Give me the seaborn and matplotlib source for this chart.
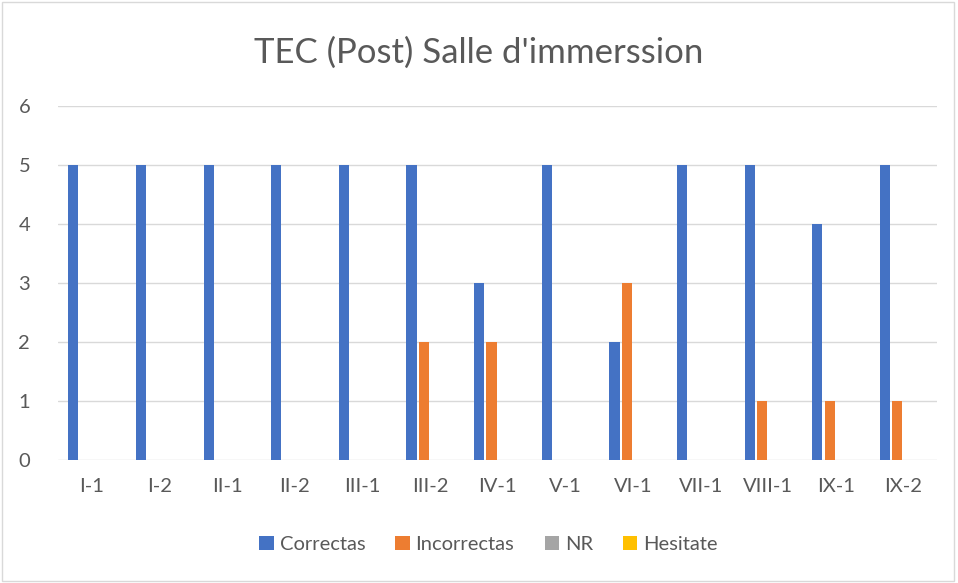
import pandas as pd
import numpy as np
import matplotlib
matplotlib.use("Agg")
import matplotlib.pyplot as plt
import seaborn as sns

# Data
categories = ["I-1", "I-2", "II-1", "II-2", "III-1", "III-2", "IV-1",
              "V-1", "VI-1", "VII-1", "VIII-1", "IX-1", "IX-2"]
correctas = [5, 5, 5, 5, 5, 5, 3, 5, 2, 5, 5, 4, 5]
incorrectas = [0, 0, 0, 0, 0, 2, 2, 0, 3, 0, 1, 1, 1]
nr = [0] * 13
hesitate = [0] * 13

series_names = ["Correctas", "Incorrectas", "NR", "Hesitate"]
colors = ["#4472C4", "#ED7D31", "#A5A5A5", "#FFC000"]

df = pd.DataFrame({"cat": categories, "Correctas": correctas,
                   "Incorrectas": incorrectas, "NR": nr, "Hesitate": hesitate})
long = df.melt(id_vars="cat", var_name="serie", value_name="valor")

sns.set_theme(style="white")
plt.rcParams['font.family'] = ['Lato', 'DejaVu Sans']

fig = plt.figure(figsize=(9.58, 5.83), dpi=100)
ax = fig.add_axes([0.0605, 0.211, 0.918, 0.607])

sns.barplot(data=long, x="cat", y="valor", hue="serie", order=categories,
            hue_order=series_names, palette=colors, saturation=1, width=0.73, gap=0.18,
            linewidth=0, ax=ax, legend=True)

ax.set_ylim(0, 6)
ax.set_yticks(range(0, 7))
ax.yaxis.grid(True, color="#D9D9D9", linewidth=1)
ax.set_axisbelow(True)
for s in ax.spines.values():
    s.set_visible(False)
ax.set_xlabel("")
ax.set_ylabel("")
ax.tick_params(axis="both", length=0, colors="#595959", labelsize=14.5)
ax.tick_params(axis="x", pad=13)
ax.tick_params(axis="y", pad=20)

fig.suptitle("TEC (Post) Salle d'immerssion", y=0.937, fontsize=25, color="#595959")

handles, labels = ax.get_legend_handles_labels()
ax.get_legend().remove()
fig.legend(handles, labels, loc="center", bbox_to_anchor=(0.51, 0.066), ncol=4,
           frameon=False, fontsize=14.5, handlelength=0.7, handleheight=0.7,
           handletextpad=0.3, columnspacing=1.5, labelcolor="#595959")

# light border around the chart
fig.patches.append(plt.Rectangle((0.002, 0.004), 0.994, 0.992, transform=fig.transFigure,
                                 fill=False, edgecolor="#D9D9D9", linewidth=1))

fig.savefig("out.png", dpi=100)
